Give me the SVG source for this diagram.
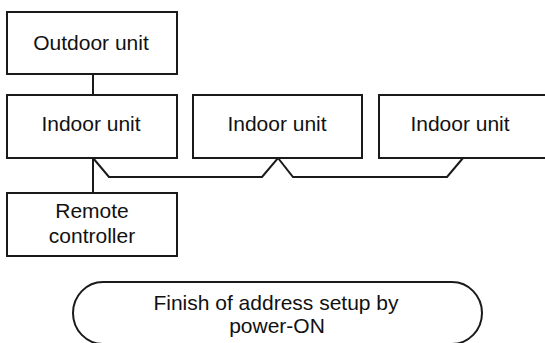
<svg xmlns="http://www.w3.org/2000/svg" width="545" height="343" viewBox="0 0 545 343">
<style>
.box{fill:#fff;stroke:#1a1a1a;stroke-width:2}
.ln{fill:none;stroke:#1a1a1a;stroke-width:2;stroke-linejoin:miter}
text{font-family:"Liberation Sans",Arial,sans-serif;font-size:21px;fill:#111;text-anchor:middle}
</style>
<rect width="545" height="343" fill="#fff"/>
<g id="connectors">
<path class="ln" d="M93 74V95"/>
<path class="ln" d="M93 158V193"/>
<path class="ln" d="M93 158L109 177H262L278 158L293 177H447L463 158"/>
</g>
<g id="outdoor"><rect class="box" x="7" y="12" width="170" height="62"/><text x="91" y="50">Outdoor unit</text></g>
<g id="indoor1"><rect class="box" x="7" y="95" width="170" height="63"/><text x="91" y="131">Indoor unit</text></g>
<g id="indoor2"><rect class="box" x="193" y="95" width="169" height="63"/><text x="277" y="131">Indoor unit</text></g>
<g id="indoor3"><rect class="box" x="379" y="95" width="170" height="63"/><text x="460" y="131">Indoor unit</text></g>
<g id="remote"><rect class="box" x="7" y="193" width="170" height="63"/><text x="92" y="218">Remote</text><text x="92" y="243">controller</text></g>
<g id="finish"><rect class="box" x="73" y="282" width="409" height="62" rx="30" ry="31"/><text x="276" y="310">Finish of address setup by</text><text x="277" y="333">power-ON</text></g>
</svg>
